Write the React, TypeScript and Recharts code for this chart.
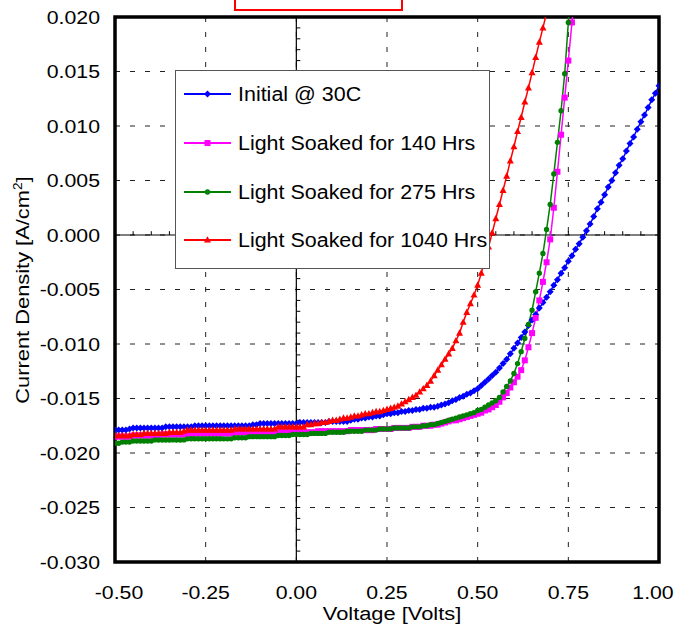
import { LineChart, Line, XAxis, YAxis, CartesianGrid, ReferenceLine, ReferenceArea } from 'recharts';

// voltage sweep (V), one entry per measured point
const voltages = [
  -0.5, -0.49, -0.48, -0.47, -0.46, -0.45, -0.44, -0.43, -0.42, -0.41,
  -0.4, -0.39, -0.38, -0.37, -0.36, -0.35, -0.34, -0.33, -0.32, -0.31,
  -0.3, -0.29, -0.28, -0.27, -0.26, -0.25, -0.24, -0.23, -0.22, -0.21,
  -0.2, -0.19, -0.18, -0.17, -0.16, -0.15, -0.14, -0.13, -0.12, -0.11,
  -0.1, -0.09, -0.08, -0.07, -0.06, -0.05, -0.04, -0.03, -0.02, -0.01,
  0.0, 0.01, 0.02, 0.03, 0.04, 0.05, 0.06, 0.07, 0.08, 0.09,
  0.1, 0.11, 0.12, 0.13, 0.14, 0.15, 0.16, 0.17, 0.18, 0.19,
  0.2, 0.21, 0.22, 0.23, 0.24, 0.25, 0.26, 0.27, 0.28, 0.29,
  0.3, 0.31, 0.32, 0.33, 0.34, 0.35, 0.36, 0.37, 0.38, 0.39,
  0.4, 0.41, 0.42, 0.43, 0.44, 0.45, 0.46, 0.47, 0.48, 0.49,
  0.5, 0.51, 0.52, 0.53, 0.54, 0.55, 0.56, 0.57, 0.58, 0.59,
  0.6, 0.61, 0.62, 0.63, 0.64, 0.65, 0.66, 0.67, 0.68, 0.69,
  0.7, 0.71, 0.72, 0.73, 0.74, 0.75, 0.76, 0.77, 0.78, 0.79,
  0.8, 0.81, 0.82, 0.83, 0.84, 0.85, 0.86, 0.87, 0.88, 0.89,
  0.9, 0.91, 0.92, 0.93, 0.94, 0.95, 0.96, 0.97, 0.98, 0.99,
  1.0,
];

// current density (A/cm2) for each curve, aligned with voltages
const initial30C = [
  -0.0179, -0.0179, -0.0179, -0.0179, -0.0178, -0.0177, -0.0177, -0.0177, -0.0177, -0.0177,
  -0.0177, -0.0177, -0.0177, -0.0177, -0.0176, -0.0176, -0.0176, -0.0176, -0.0176, -0.0176,
  -0.0176, -0.0176, -0.0175, -0.0175, -0.0175, -0.0175, -0.0175, -0.0175, -0.0175, -0.0175,
  -0.0175, -0.0175, -0.0175, -0.0175, -0.0175, -0.0175, -0.0175, -0.0175, -0.0174, -0.0174,
  -0.0173, -0.0173, -0.0173, -0.0173, -0.0173, -0.0173, -0.0173, -0.0173, -0.0173, -0.0173,
  -0.0173, -0.0172, -0.0172, -0.0172, -0.0172, -0.0172, -0.0172, -0.0172, -0.0172, -0.0171,
  -0.0171, -0.0171, -0.0171, -0.0171, -0.0171, -0.017, -0.0169, -0.0169, -0.0168, -0.0168,
  -0.0167, -0.0167, -0.0166, -0.0166, -0.0165, -0.0164, -0.0164, -0.0163, -0.0163, -0.0162,
  -0.0162, -0.0161, -0.0161, -0.016, -0.016, -0.0159, -0.0159, -0.0158, -0.0158, -0.0157,
  -0.0156, -0.0155, -0.0154, -0.0152, -0.0151, -0.0149, -0.0148, -0.0146, -0.0145, -0.0143,
  -0.0141, -0.0138, -0.0135, -0.0132, -0.0129, -0.0126, -0.0122, -0.0118, -0.0114, -0.0109,
  -0.0104, -0.0099, -0.0094, -0.0089, -0.0083, -0.0078, -0.0073, -0.0067, -0.0062, -0.0057,
  -0.0052, -0.0046, -0.0041, -0.0035, -0.003, -0.0024, -0.0019, -0.0013, -0.0008, -0.0002,
  0.0004, 0.001, 0.0017, 0.0024, 0.003, 0.0037, 0.0044, 0.005, 0.0057, 0.0064,
  0.007, 0.0077, 0.0084, 0.009, 0.0097, 0.0104, 0.011, 0.0117, 0.0124, 0.013,
  0.0137,
];

const soaked140 = [
  -0.0185, -0.0185, -0.0185, -0.0185, -0.0185, -0.0184, -0.0184, -0.0184, -0.0184, -0.0184,
  -0.0184, -0.0184, -0.0184, -0.0183, -0.0183, -0.0183, -0.0183, -0.0183, -0.0183, -0.0183,
  -0.0183, -0.0183, -0.0182, -0.0182, -0.0182, -0.0182, -0.0182, -0.0182, -0.0182, -0.0182,
  -0.0182, -0.0182, -0.0182, -0.0181, -0.0181, -0.0181, -0.0181, -0.0181, -0.0181, -0.0181,
  -0.0181, -0.0181, -0.0181, -0.0181, -0.0181, -0.0181, -0.0181, -0.0181, -0.0181, -0.0181,
  -0.0181, -0.0181, -0.0181, -0.0181, -0.0181, -0.0181, -0.018, -0.018, -0.018, -0.018,
  -0.018, -0.018, -0.018, -0.018, -0.018, -0.0179, -0.0179, -0.0179, -0.0179, -0.0179,
  -0.0179, -0.0179, -0.0178, -0.0178, -0.0178, -0.0178, -0.0178, -0.0177, -0.0177, -0.0177,
  -0.0177, -0.0177, -0.0176, -0.0176, -0.0176, -0.0175, -0.0175, -0.0175, -0.0174, -0.0174,
  -0.0173, -0.0172, -0.0171, -0.017, -0.017, -0.0169, -0.0168, -0.0167, -0.0166, -0.0165,
  -0.0164, -0.0163, -0.0161, -0.016, -0.0158, -0.0156, -0.0153, -0.0149, -0.0145, -0.014,
  -0.0135, -0.013, -0.0124, -0.0115, -0.0103, -0.009, -0.0076, -0.006, -0.0043, -0.0025,
  -0.0004, 0.0025, 0.0058, 0.0092, 0.0126, 0.016, 0.0195, 0.023,
];

const soaked275 = [
  -0.0191, -0.0191, -0.019, -0.019, -0.019, -0.0189, -0.0189, -0.0189, -0.0189, -0.0189,
  -0.0189, -0.0188, -0.0188, -0.0188, -0.0188, -0.0188, -0.0188, -0.0188, -0.0188, -0.0188,
  -0.0187, -0.0187, -0.0187, -0.0187, -0.0187, -0.0187, -0.0187, -0.0187, -0.0187, -0.0187,
  -0.0187, -0.0187, -0.0187, -0.0186, -0.0186, -0.0186, -0.0186, -0.0185, -0.0185, -0.0185,
  -0.0185, -0.0185, -0.0185, -0.0185, -0.0185, -0.0184, -0.0184, -0.0184, -0.0184, -0.0183,
  -0.0183, -0.0183, -0.0183, -0.0183, -0.0182, -0.0182, -0.0182, -0.0182, -0.0182, -0.0181,
  -0.0181, -0.0181, -0.0181, -0.0181, -0.018, -0.018, -0.018, -0.018, -0.018, -0.0179,
  -0.0179, -0.0179, -0.0179, -0.0178, -0.0178, -0.0178, -0.0178, -0.0177, -0.0177, -0.0177,
  -0.0177, -0.0177, -0.0176, -0.0176, -0.0176, -0.0175, -0.0175, -0.0174, -0.0174, -0.0173,
  -0.0172, -0.0171, -0.017, -0.0169, -0.0168, -0.0167, -0.0166, -0.0165, -0.0164, -0.0163,
  -0.0161, -0.016, -0.0158, -0.0156, -0.0154, -0.0152, -0.0149, -0.0144, -0.0139, -0.0134,
  -0.0127, -0.0118, -0.0107, -0.0095, -0.0082, -0.0069, -0.0052, -0.0035, -0.0017, 0.0005,
  0.0028, 0.0056, 0.0085, 0.0114, 0.0148, 0.0195, 0.0235,
];

const soaked1040 = [
  -0.0184, -0.0184, -0.0184, -0.0184, -0.0184, -0.0183, -0.0183, -0.0183, -0.0182, -0.0182,
  -0.0182, -0.0182, -0.0182, -0.0182, -0.0182, -0.0181, -0.0181, -0.0181, -0.0181, -0.018,
  -0.0179, -0.0179, -0.0179, -0.0179, -0.0179, -0.0179, -0.0179, -0.0179, -0.0179, -0.0179,
  -0.0179, -0.0179, -0.0179, -0.0178, -0.0178, -0.0178, -0.0178, -0.0178, -0.0178, -0.0178,
  -0.0178, -0.0178, -0.0178, -0.0178, -0.0178, -0.0176, -0.0176, -0.0176, -0.0176, -0.0176,
  -0.0176, -0.0176, -0.0176, -0.0174, -0.0174, -0.0173, -0.0173, -0.0172, -0.0172, -0.0171,
  -0.017, -0.017, -0.0169, -0.0168, -0.0168, -0.0167, -0.0166, -0.0166, -0.0165, -0.0164,
  -0.0164, -0.0163, -0.0162, -0.0162, -0.0161, -0.016, -0.0159, -0.0158, -0.0157, -0.0155,
  -0.0153, -0.0151, -0.0149, -0.0147, -0.0144, -0.0141, -0.0138, -0.0134, -0.0129, -0.0124,
  -0.0119, -0.0114, -0.0109, -0.0104, -0.0097, -0.009, -0.008, -0.0071, -0.0063, -0.0055,
  -0.0046, -0.0035, -0.0023, -0.0011, 0.0002, 0.0015, 0.0028, 0.0041, 0.0054, 0.0068,
  0.0081, 0.0095, 0.0108, 0.0122, 0.0135, 0.0149, 0.0163, 0.0177, 0.019, 0.0204,
];

const seriesNames = [
  'Initial @ 30C',
  'Light Soaked for 140 Hrs',
  'Light Soaked for 275 Hrs',
  'Light Soaked for 1040 Hrs',
];

const xTicks = [-0.5, -0.25, 0, 0.25, 0.5, 0.75, 1.0];
const yTicks = [-0.03, -0.025, -0.02, -0.015, -0.01, -0.005, 0, 0.005, 0.01, 0.015, 0.02];

// small tick marks drawn on the zero axes
const minorY = Array.from({ length: 51 }, (_, i) => -0.03 + i * 0.001);
const minorX = Array.from({ length: 31 }, (_, i) => -0.5 + i * 0.05);

const FONT = '"Liberation Sans", Arial, sans-serif';
const STRETCH = 1.15;

type Shape = 'diamond' | 'square' | 'circle' | 'triangle';

function markerPath(shape: Shape, cx: number, cy: number) {
  switch (shape) {
    case 'diamond':
      return `M${cx},${cy - 3.5}L${cx + 3.5},${cy}L${cx},${cy + 3.5}L${cx - 3.5},${cy}Z`;
    case 'square':
      return `M${cx - 3},${cy - 3}h6v6h-6Z`;
    case 'circle':
      return `M${cx - 2.7},${cy}a2.7,2.7 0 1,0 5.4,0a2.7,2.7 0 1,0 -5.4,0`;
    default:
      return `M${cx},${cy - 3.8}L${cx + 3.5},${cy + 2.6}L${cx - 3.5},${cy + 2.6}Z`;
  }
}

const series = [
  { name: seriesNames[0], values: initial30C, color: '#0000ff', shape: 'diamond' as Shape },
  { name: seriesNames[1], values: soaked140, color: '#ff00ff', shape: 'square' as Shape },
  { name: seriesNames[2], values: soaked275, color: '#008000', shape: 'circle' as Shape },
  { name: seriesNames[3], values: soaked1040, color: '#ff0000', shape: 'triangle' as Shape },
];

const toRows = (values: number[]) => values.map((j, i) => ({ v: voltages[i], j }));

function makeDot(shape: Shape, color: string) {
  return (props: any) => {
    const { cx, cy, index } = props;
    if (cx == null || cy == null) return <g key={`n-${index}`} />;
    return <path key={`${shape}-${index}`} d={markerPath(shape, cx, cy)} fill={color} stroke="none" />;
  };
}

const XTick = (props: any) => {
  const { x, y, payload } = props;
  const v = payload.value as number;
  const shift = v === 1 ? -6 : v === -0.5 ? 4 : 0;
  return (
    <g transform={`translate(${x + shift},${y})`}>
      <text transform={`scale(${STRETCH},1)`} textAnchor="middle" dy={37} fontSize={18.5} fontFamily={FONT} fill="#000">
        {v.toFixed(2)}
      </text>
    </g>
  );
};

const YTick = (props: any) => {
  const { x, y, payload } = props;
  const v = payload.value as number;
  return (
    <g transform={`translate(${x},${y})`}>
      <text transform={`scale(${STRETCH},1)`} textAnchor="end" dy={6.5} fontSize={18.5} fontFamily={FONT} fill="#000">
        {Math.abs(v) < 1e-9 ? '0.000' : v.toFixed(3)}
      </text>
    </g>
  );
};

const XTitle = (props: any) => {
  const { viewBox } = props;
  const cx = viewBox.x + viewBox.width / 2 + 5;
  return (
    <g transform={`translate(${cx},620)`}>
      <text transform={`scale(${STRETCH},1)`} textAnchor="middle" fontSize={19} fontFamily={FONT} fill="#000">
        Voltage [Volts]
      </text>
    </g>
  );
};

const YTitle = () => (
  <g transform="translate(29,290) rotate(-90)">
    <text transform={`scale(${STRETCH},1)`} textAnchor="middle" fontSize={19} fontFamily={FONT} fill="#000">
      Current Density [A/cm
      <tspan dy={-7} fontSize={12}>2</tspan>
      <tspan dy={7}>]</tspan>
    </text>
  </g>
);

function LegendBox() {
  const rowTops = [23, 72, 121, 169];
  return (
    <div
      style={{
        position: 'absolute',
        left: 175,
        top: 70,
        width: 315,
        height: 199,
        boxSizing: 'border-box',
        border: '1.5px solid #555',
        background: '#fff',
      }}
    >
      {series.map((s, i) => (
        <div key={s.name} style={{ position: 'absolute', left: 6, top: rowTops[i] - 13, height: 26, display: 'flex', alignItems: 'center' }}>
          <svg width={50} height={12} style={{ display: 'block' }}>
            <line x1={2} y1={6} x2={49} y2={6} stroke={s.color} strokeWidth={2} />
            <path d={markerPath(s.shape, 25.5, 6)} fill={s.color} />
          </svg>
          <span
            style={{
              marginLeft: 6,
              fontFamily: FONT,
              fontSize: 19.5,
              whiteSpace: 'nowrap',
              display: 'inline-block',
              transform: 'scaleX(1.1)',
              transformOrigin: 'left center',
              color: '#000',
            }}
          >
            {s.name}
          </span>
        </div>
      ))}
    </div>
  );
}

export default function App() {
  return (
    <div style={{ position: 'relative', width: 685, height: 631, overflow: 'hidden', background: '#fff' }}>
      <style>{'body{margin:0}'}</style>
      <LineChart width={685} height={631} margin={{ top: 17, right: 26, bottom: 0, left: 0 }}>
        <CartesianGrid stroke="#222" strokeDasharray="5 10" />
        <XAxis
          type="number"
          dataKey="v"
          domain={[-0.5, 1]}
          ticks={xTicks}
          height={69}
          axisLine={false}
          tickLine={false}
          tickSize={0}
          tickMargin={0}
          tick={<XTick />}
          label={<XTitle />}
          allowDataOverflow
        />
        <YAxis
          type="number"
          domain={[-0.03, 0.02]}
          ticks={yTicks}
          width={115}
          axisLine={false}
          tickLine={false}
          tickSize={0}
          tickMargin={15}
          tick={<YTick />}
          label={<YTitle />}
          allowDataOverflow
        />
        <ReferenceLine x={0} stroke="#000" strokeWidth={1.2} />
        <ReferenceLine y={0} stroke="#000" strokeWidth={1.2} />
        {minorY.map((t) => (
          <ReferenceLine key={`my-${t.toFixed(3)}`} segment={[{ x: 0, y: t }, { x: 0.011, y: t }]} stroke="#000" />
        ))}
        {minorX.map((t) => (
          <ReferenceLine key={`mx-${t.toFixed(2)}`} segment={[{ x: t, y: 0 }, { x: t, y: 0.00035 }]} stroke="#000" />
        ))}
        {series.map((s) => (
          <Line
            key={s.name}
            data={toRows(s.values)}
            dataKey="j"
            name={s.name}
            type="linear"
            stroke={s.color}
            strokeWidth={1.5}
            dot={makeDot(s.shape, s.color)}
            activeDot={false}
            isAnimationActive={false}
          />
        ))}
        <ReferenceArea x1={-0.5} x2={1} y1={-0.03} y2={0.02} fill="none" stroke="#000" strokeWidth={3.5} />
      </LineChart>
      <LegendBox />
      <div
        style={{
          position: 'absolute',
          left: 234,
          top: -20,
          width: 169,
          height: 31,
          boxSizing: 'border-box',
          border: '2px solid #ff0000',
        }}
      />
    </div>
  );
}
